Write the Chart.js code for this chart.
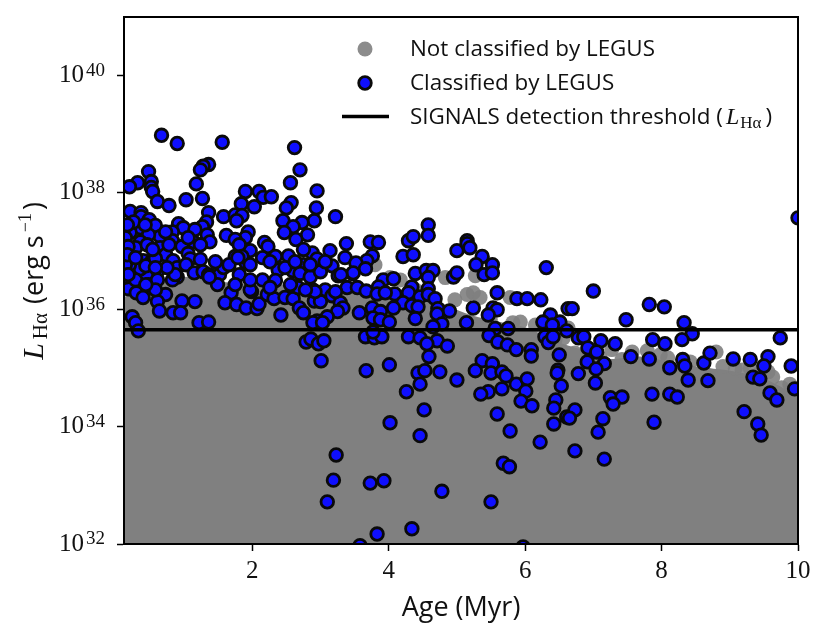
<!DOCTYPE html>
<html>
<head>
<meta charset="utf-8">
<style>
  html, body { margin: 0; padding: 0; background: #fff; }
  canvas { display: block; }
</style>
<script src="https://cdn.jsdelivr.net/npm/chart.js@4/dist/chart.umd.min.js"></script>
</head>
<body>
<canvas id="chart" width="830" height="643"></canvas>
<script>
// values, luminosity kept as log10(L)
const classifiedAge = [
  0.67,0.90,1.56,2.62,1.36,1.28,1.24,0.48,2.70,0.32,0.20,0.52,0.52,0.54,1.18,2.56,1.90,2.10,2.16,2.28,
  2.95,0.61,0.78,1.03,1.27,1.84,2.03,2.57,2.50,2.94,3.22,1.36,1.58,1.75,1.85,1.77,1.33,1.27,0.21,0.37,
  0.37,0.49,0.58,2.45,2.91,2.73,2.60,2.47,2.81,0.92,0.99,0.83,0.36,1.94,1.62,1.34,1.90,2.64,0.65,0.21,
  0.48,0.36,0.83,1.14,1.38,2.18,2.23,3.38,1.75,1.97,3.14,0.97,0.65,0.73,1.06,1.09,0.40,0.84,1.24,0.23,
  0.62,0.90,1.03,0.36,0.45,0.48,0.90,0.83,1.15,1.28,1.36,1.52,1.49,1.58,1.75,1.91,2.34,2.53,2.75,2.88,
  2.95,3.17,3.26,2.59,2.70,2.85,3.00,2.38,2.34,0.15,0.18,0.30,0.40,0.73,0.61,0.64,0.97,1.16,0.84,0.95,
  0.24,0.29,0.33,1.22,1.36,1.69,1.60,1.77,1.91,2.07,2.10,1.99,2.22,2.32,2.48,2.60,2.67,2.69,2.75,2.42,
  2.89,2.91,3.00,3.07,3.17,3.39,3.29,3.33,3.25,3.10,2.95,2.89,3.03,2.79,2.86,2.97,3.05,3.01,
  0.14,0.29,0.46,0.14,1.81,1.85,1.66,1.81,0.87,0.61,0.36,0.51,0.20,1.37,2.75,3.36,1.79,3.47,1.97,3.22,2.92,
  0.14,0.14,0.18,0.17,0.44,0.58,0.75,0.58,0.29,
  0.26,0.43,0.17,0.73,1.16,1.06,0.54,0.29,0.78,1.24,1.46,1.97,2.15,2.26,2.48,2.63,2.85,3.07,2.15,1.97,1.75,0.58,0.18,0.44,2.56,2.78,2.26,
  3.73,3.85,4.29,4.36,4.58,4.58,5.00,4.21,4.36,3.76,3.68,3.52,3.66,3.48,3.30,4.39,4.55,4.65,4.95,3.92,
  4.07,4.58,3.85,3.54,3.67,4.58,4.34,4.09,4.29,3.83,3.95,4.46,4.58,4.68,4.21,3.76,3.88,3.77,3.88,4.01,
  4.07,4.34,4.43,4.72,4.89,3.57,4.39,4.71,4.78,4.65,3.66,3.79,3.90,3.77,4.29,4.46,4.71,4.56,4.86,5.15,
  5.15,5.19,5.37,5.28,5.52,5.40,5.52,6.31,5.00,5.59,5.88,6.03,6.23,6.63,5.24,5.53,5.59,5.46,6.37,6.51,
  6.26,6.40,5.14,6.61,5.56,5.75,5.47,5.60,5.74,5.87,6.09,6.09,6.29,6.34,6.41,6.50,4.59,4.01,3.67,5.37,
  5.52,5.27,5.50,5.66,5.72,4.43,4.53,4.75,5.00,4.46,4.26,5.87,6.03,5.66,6.01,5.46,5.35,6.48,6.47,6.53,
  6.45,6.42,5.94,6.10,4.52,5.59,4.02,4.46,5.78,6.42,6.22,6.61,
  7.00,6.69,7.82,8.04,7.48,8.33,8.45,6.78,6.86,7.11,7.32,6.92,7.05,7.87,8.05,8.30,9.74,7.55,7.82,6.91,
  7.16,7.04,8.31,8.34,8.12,8.62,8.71,9.05,9.30,9.56,9.50,9.90,6.78,7.03,8.39,8.68,9.34,9.44,9.95,9.59,
  9.69,7.25,7.42,7.29,7.86,8.12,8.23,6.73,9.21,6.65,7.14,7.07,7.89,9.41,9.46,6.73,7.16,10.00,
  3.23,3.19,3.10,3.73,3.93,3.83,4.34,4.78,5.50,5.68,5.77,3.58,5.97
];
const classifiedLogL = [
  38.98,38.84,38.86,38.77,38.48,38.45,38.39,38.36,38.39,38.17,38.10,38.19,38.09,38.02,38.15,38.17,38.02,38.02,37.92,37.93,
  38.03,37.85,37.78,37.88,37.90,37.81,37.76,37.83,37.74,37.74,37.59,37.66,37.59,37.62,37.61,37.52,37.50,37.42,37.68,37.66,
  37.59,37.54,37.44,37.52,37.52,37.49,37.42,37.32,37.28,37.47,37.40,37.33,37.40,37.33,37.27,37.28,37.23,37.20,37.25,37.32,
  37.28,37.16,37.18,37.16,37.16,37.15,37.08,37.13,37.20,37.01,37.01,37.08,37.06,36.94,36.96,36.87,36.84,36.84,36.86,36.75,
  36.67,36.72,36.77,36.63,36.60,36.43,36.56,36.51,36.63,36.65,36.60,36.60,36.43,36.72,36.91,36.80,36.91,36.92,36.77,36.97,
  36.87,36.75,36.58,36.67,36.62,36.56,36.65,36.68,36.50,36.53,36.36,36.29,36.21,36.26,36.14,35.98,36.15,36.14,35.95,35.95,
  35.88,35.78,35.64,35.78,35.79,36.29,36.12,36.09,36.03,36.02,36.10,36.31,36.26,36.19,36.21,36.19,36.38,36.03,35.95,35.91,
  36.34,36.15,36.14,36.34,36.24,36.38,36.12,36.03,35.97,35.88,35.81,35.78,35.78,35.45,35.50,35.42,35.47,35.13,
  37.23,37.06,37.11,36.56,37.11,36.91,36.77,36.60,36.60,36.51,36.70,36.80,36.77,36.56,37.03,36.89,36.89,36.62,36.34,36.31,36.31,
  36.77,36.99,37.08,36.94,36.75,36.88,36.72,36.34,36.51,
  37.50,37.45,37.45,37.33,37.37,37.23,37.03,36.89,37.11,37.11,36.82,36.77,36.89,36.82,36.72,36.82,36.77,36.82,36.51,36.51,36.43,36.72,36.60,36.43,36.43,36.34,36.38,
  37.16,37.15,37.18,37.25,37.45,37.27,37.01,36.91,36.94,36.92,36.84,36.80,36.70,36.63,36.60,36.62,36.67,36.67,36.56,36.51,
  36.53,36.55,36.39,36.38,36.32,36.36,36.39,36.27,36.29,36.27,36.29,36.22,36.26,36.19,36.12,36.03,35.97,35.86,35.83,35.79,
  36.03,36.07,36.05,36.02,35.98,35.95,35.85,35.93,35.76,35.71,35.54,35.52,35.54,35.62,35.54,35.52,35.47,35.42,35.38,37.18,
  37.13,37.06,36.91,36.77,36.77,36.60,36.63,36.72,36.63,36.29,36.19,36.19,36.17,36.02,36.03,36.03,36.00,35.91,35.91,35.79,
  35.79,35.74,35.78,35.64,35.68,35.68,35.56,35.45,35.40,35.32,35.32,35.21,35.54,35.44,35.54,35.23,35.20,35.06,34.96,35.13,
  35.08,34.96,34.92,34.94,34.87,34.92,34.96,34.94,34.80,34.73,34.60,34.73,34.82,34.65,34.61,34.60,34.56,34.97,34.92,34.70,
  34.46,34.32,34.44,34.36,34.29,34.22,34.07,33.85,33.93,34.05,33.74,34.17,
  36.32,36.02,36.09,36.05,35.83,35.78,35.59,35.52,35.54,35.47,35.42,35.35,35.28,35.49,35.42,35.49,35.52,35.20,35.16,35.11,
  35.08,34.99,35.15,35.04,35.01,35.09,35.26,35.16,35.15,35.20,35.04,35.04,34.91,34.75,34.80,34.79,34.85,34.82,34.65,34.58,
  34.46,34.50,34.51,34.39,34.56,34.56,34.51,34.29,34.26,34.15,34.14,33.91,34.08,34.05,33.86,33.59,33.45,37.57,
  33.52,33.09,32.72,33.04,33.08,32.17,32.26,32.90,32.72,33.38,33.32,31.97,31.95
];
// the unclassified regions that stand clear of the grey mass
const unclassifiedAge = [3.80,4.02,4.83,5.27,5.15,5.24,5.34,5.78,5.82,5.93,6.44,8.80,7.79,7.57,6.73,6.56,6.63,7.27,8.09,8.90,9.18,9.44,9.63,9.76,
  6.95,7.10,7.42,7.98,8.42,9.08,9.30,9.56,9.88,4.17,4.39,4.97,5.49,6.15,6.34];
const unclassifiedLogL = [36.77,36.55,36.55,36.58,36.26,36.29,36.21,36.21,35.78,35.79,35.49,35.28,35.30,35.28,35.26,35.52,35.69,35.32,35.18,35.03,34.97,34.92,34.85,34.67,
  35.28,35.18,35.15,35.23,35.11,35.00,35.00,34.94,34.73,36.51,36.34,36.17,35.83,35.74,35.62];
// top edge of the solid grey mass
const massAge = [0.12,0.36,0.65,0.95,1.24,1.53,1.97,2.41,2.85,3.29,3.66,4.17,4.61,4.83,5.19,5.63,6.07,6.29,6.59,6.95,7.24,7.68,8.12,8.56,9.00,9.44,9.74,10.00];
const massLogL = [36.17,36.26,36.43,36.51,36.48,36.43,36.38,36.38,36.38,36.34,36.29,36.26,36.17,36.03,35.86,35.74,35.62,35.49,35.35,35.23,35.11,35.15,35.06,34.97,34.91,34.80,34.63,34.46];
const thresholdLogL = 35.66;

const xMin = 0.12, xMax = 10;
const xTicks = [2, 4, 6, 8, 10];
const yTickExponents = [32, 34, 36, 38, 40];
const legendLabels = ['Not classified by LEGUS', 'Classified by LEGUS', 'SIGNALS detection threshold ('];

const toPoints = (ages, logs) => ages.map((a, i) => ({ x: a, y: Math.pow(10, logs[i]) }));

const serif = '"Liberation Serif", serif';
const sans = '"Open Sans", sans-serif';
const blue = '#0f0fff';

const legendAndFrame = {
  id: 'legendAndFrame',
  afterDraw(chart) {
    const c = chart.ctx, a = chart.chartArea;
    c.save();
    c.strokeStyle = '#000';
    c.lineWidth = 2;
    c.strokeRect(a.left, a.top, a.right - a.left, a.bottom - a.top);

    c.fillStyle = '#111';
    c.textAlign = 'left';
    c.textBaseline = 'alphabetic';

    // exponents next to the "10" tick labels
    c.font = '19px ' + serif;
    yTickExponents.forEach(e => {
      c.fillText(String(e), 86, chart.scales.y.getPixelForValue(Math.pow(10, e)));
    });

    // legend
    c.fillStyle = 'rgba(128,128,128,0.9)';
    c.beginPath(); c.arc(365, 49, 7.5, 0, Math.PI * 2); c.fill();
    c.fillStyle = blue;
    c.strokeStyle = '#0a0a0a';
    c.lineWidth = 2.8;
    c.beginPath(); c.arc(365, 83, 6.3, 0, Math.PI * 2); c.fill(); c.stroke();
    c.strokeStyle = '#000';
    c.lineWidth = 3.4;
    c.beginPath(); c.moveTo(342, 116.5); c.lineTo(389, 116.5); c.stroke();

    c.fillStyle = '#111';
    c.font = '22.4px ' + sans;
    c.fillText(legendLabels[0], 410, 56);
    c.fillText(legendLabels[1], 410, 90);
    c.fillText(legendLabels[2], 410, 124);
    let x = 410 + c.measureText(legendLabels[2]).width + 3;
    c.font = 'italic 24px ' + serif;
    c.fillText('L', x, 124);
    x += c.measureText('L').width + 1;
    c.font = '17px ' + serif;
    c.fillText('Hα', x, 128);
    x += c.measureText('Hα').width + 4;
    c.font = '22.4px ' + sans;
    c.fillText(')', x, 124);

    // y axis title, has a subscript so it is set by hand
    c.translate(43, 281);
    c.rotate(-Math.PI / 2);
    const parts = [
      ['italic 30px ' + serif, 'L', 0, 4],
      ['21px ' + serif, 'Hα', 4, 2],
      ['27px ' + sans, ' (erg s', 0, 3],
      ['18px ' + serif, '−1', -12, 3],
      ['27px ' + sans, ')', 0, 0]
    ];
    let w = 0;
    parts.forEach(p => { c.font = p[0]; w += c.measureText(p[1]).width + p[3]; });
    let px = -w / 2;
    parts.forEach(p => {
      c.font = p[0];
      c.fillText(p[1], px, p[2]);
      px += c.measureText(p[1]).width + p[3];
    });
    c.restore();
  }
};

new Chart(document.getElementById('chart').getContext('2d'), {
  type: 'scatter',
  plugins: [legendAndFrame],
  data: {
    datasets: [
      {
        type: 'line',
        label: 'SIGNALS detection threshold',
        data: toPoints([xMin, xMax], [thresholdLogL, thresholdLogL]),
        borderColor: '#000',
        borderWidth: 3.4,
        pointRadius: 0,
        order: 0
      },
      {
        label: legendLabels[1],
        data: toPoints(classifiedAge, classifiedLogL),
        pointBackgroundColor: blue,
        pointBorderColor: '#0a0a0a',
        pointBorderWidth: 2.8,
        pointRadius: 6.3,
        order: 1
      },
      {
        label: legendLabels[0],
        data: toPoints(unclassifiedAge, unclassifiedLogL),
        pointBackgroundColor: 'rgba(128,128,128,0.9)',
        pointBorderWidth: 0,
        pointRadius: 7.5,
        order: 2
      },
      {
        type: 'line',
        label: legendLabels[0] + ' (mass)',
        data: toPoints(massAge, massLogL),
        borderColor: '#808080',
        borderWidth: 6,
        backgroundColor: '#808080',
        fill: 'start',
        tension: 0.3,
        pointRadius: 0,
        order: 3
      }
    ]
  },
  options: {
    responsive: false,
    animation: false,
    layout: { padding: { top: 17, right: 32 } },
    plugins: { legend: { display: false }, tooltip: { enabled: false } },
    scales: {
      x: {
        type: 'linear',
        min: xMin,
        max: xMax,
        afterBuildTicks: scale => { scale.ticks = xTicks.map(v => ({ value: v })); },
        afterFit: scale => { scale.height = 99; scale.paddingLeft = 0; scale.paddingRight = 0; },
        border: { color: '#000', width: 2 },
        grid: { drawOnChartArea: false, drawTicks: true, tickLength: 7, tickWidth: 1.5, tickColor: '#000' },
        ticks: { color: '#111', font: { family: serif, size: 25 }, padding: 5, maxRotation: 0, autoSkip: false },
        title: { display: true, text: 'Age (Myr)', color: '#111', font: { family: sans, size: 27 }, padding: { top: 4, bottom: 18 } }
      },
      y: {
        type: 'logarithmic',
        min: 1e32,
        max: 1e41,
        afterBuildTicks: scale => { scale.ticks = yTickExponents.map(e => ({ value: Math.pow(10, e) })); },
        afterFit: scale => { scale.width = 124; scale.paddingTop = 0; scale.paddingBottom = 0; },
        border: { color: '#000', width: 2 },
        grid: { drawOnChartArea: false, drawTicks: true, tickLength: 7, tickWidth: 1.5, tickColor: '#000' },
        ticks: {
          color: '#111',
          font: { family: serif, size: 25 },
          padding: 33,
          autoSkip: false,
          callback: () => '10'
        }
      }
    }
  }
});
</script>
</body>
</html>
